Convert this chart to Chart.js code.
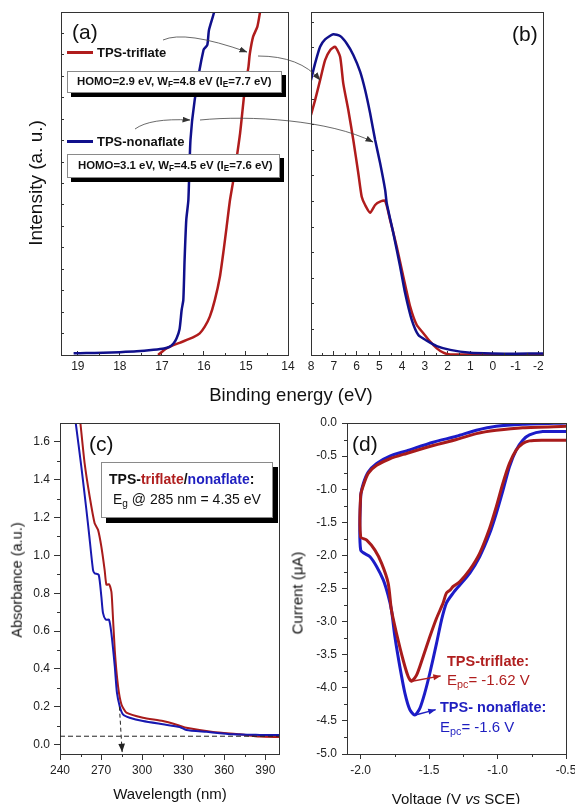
<!DOCTYPE html>
<html>
<head>
<meta charset="utf-8">
<title>TPS-triflate / TPS-nonaflate</title>
<script src="https://cdn.jsdelivr.net/npm/chart.js@4.4.1/dist/chart.umd.min.js"></script>
<style>
  body { margin: 0; background: #fff; }
  #fig { position: relative; width: 575px; height: 804px; overflow: hidden;
         font-family: "Liberation Sans", Arial, sans-serif; color: #111; }
  #fig canvas { position: absolute; }
  .t { position: absolute; white-space: nowrap; line-height: 1; transform: translateY(-50%); }
  .c { transform: translate(-50%, -50%); }
  .r { transform: translate(-50%, -50%) rotate(-90deg); }
  .b { font-weight: bold; }
  .sb { font-size: 0.72em; position: relative; top: 0.3em; }
  .box { position: absolute; box-sizing: border-box; background: #fff; border: 1px solid #8a8a8a; }
  .seg { position: absolute; height: 3px; }
  svg { position: absolute; left: 0; top: 0; }
  .red { color: #b01e1e; }
  .blu { color: #1e1ec0; }
</style>
</head>
<body>
<div id="fig">
  <canvas id="ca" width="295" height="380" style="left:0;top:0"></canvas>
  <canvas id="cb" width="280" height="380" style="left:295px;top:0"></canvas>
  <canvas id="cc" width="290" height="404" style="left:0;top:400px"></canvas>
  <canvas id="cd" width="285" height="404" style="left:290px;top:400px"></canvas>

  <svg width="575" height="400" viewBox="0 0 575 400">
    <defs>
      <marker id="ah" markerWidth="8" markerHeight="6" refX="7.5" refY="3" orient="auto" markerUnits="userSpaceOnUse">
        <path d="M0,0 L8,3 L0,6 z" fill="#333"/>
      </marker>
    </defs>
    <g fill="none" stroke="#444" stroke-width="0.8" marker-end="url(#ah)">
      <path d="M163 40 Q185 30 247 52"/>
      <path d="M258 56 Q300 56 320 80"/>
      <path d="M135 129 Q150 118 190 120"/>
      <path d="M200 120 C250 115 330 120 373 142"/>
    </g>
  </svg>

  <!-- (a) / (b) texts -->
  <div class="t" style="left:72px;top:31px;font-size:21px">(a)</div>
  <div class="t" style="left:512px;top:33px;font-size:21px">(b)</div>
  <div class="seg" style="left:67px;top:51px;width:26px;background:#b01c1c"></div>
  <div class="t b" style="left:97px;top:52px;font-size:13px">TPS-triflate</div>
  <div class="box" style="left:67px;top:71px;width:215px;height:22px;box-shadow:4px 4px 0 #000"></div>
  <div class="t b" style="left:77px;top:82px;font-size:11.4px">HOMO=2.9 eV, W<span class="sb">F</span>=4.8 eV (I<span class="sb">E</span>=7.7 eV)</div>
  <div class="seg" style="left:67px;top:140px;width:26px;background:#10108c"></div>
  <div class="t b" style="left:97px;top:141px;font-size:13px">TPS-nonaflate</div>
  <div class="box" style="left:67px;top:154px;width:213px;height:24px;box-shadow:4px 4px 0 #000"></div>
  <div class="t b" style="left:78px;top:166px;font-size:11.4px">HOMO=3.1 eV, W<span class="sb">F</span>=4.5 eV (I<span class="sb">E</span>=7.6 eV)</div>
  <div class="t r" style="left:35px;top:183px;font-size:19px">Intensity (a. u.)</div>
  <div class="t c" style="left:291px;top:395px;font-size:18.5px">Binding energy (eV)</div>

  <!-- (c) texts -->
  <div class="t" style="left:89px;top:443px;font-size:21px">(c)</div>
  <div class="box" style="left:101px;top:462px;width:172px;height:56px;box-shadow:5px 5px 0 #000"></div>
  <div class="t b" style="left:109px;top:479px;font-size:14px">TPS-<span class="red">triflate</span>/<span class="blu">nonaflate</span>:</div>
  <div class="t" style="left:113px;top:499px;font-size:14px">E<span class="sb">g</span> @ 285 nm = 4.35 eV</div>
  <div class="t r" style="left:17px;top:580px;font-size:14.5px">Absorbance (a.u.)</div>
  <div class="t c" style="left:170px;top:793px;font-size:15px">Wavelength (nm)</div>

  <!-- (d) texts -->
  <div class="t" style="left:352px;top:443px;font-size:21px">(d)</div>
  <div class="t b red" style="left:447px;top:661px;font-size:14.5px">TPS-triflate:</div>
  <div class="t red" style="left:447px;top:679px;font-size:15px">E<span class="sb">pc</span>= -1.62 V</div>
  <div class="t b blu" style="left:440px;top:707px;font-size:14.5px">TPS- nonaflate:</div>
  <div class="t blu" style="left:440px;top:726px;font-size:15px">E<span class="sb">pc</span>= -1.6 V</div>
  <div class="t r" style="left:297px;top:593px;font-size:15px">Current (&mu;A)</div>
  <div class="t c" style="left:456px;top:798px;font-size:15px">Voltage (V <i>vs</i> SCE)</div>
</div>

<script>
  const FONT = '"Liberation Sans", Arial, sans-serif';
  Chart.defaults.font.family = FONT;

  // (a) secondary electron cut-off, binding energy (eV) vs intensity (a.u.)
  const aBlueE = [19.1, 18.8, 18.4, 18.0, 17.6, 17.2, 16.95, 16.82, 16.72, 16.65, 16.58, 16.53, 16.49, 16.46, 16.42, 16.37, 16.32, 16.22, 16.01, 15.92, 15.88, 15.76, 15.72];
  const aBlueI = [0.08, 0.09, 0.1, 0.13, 0.17, 0.24, 0.3, 0.38, 0.55, 0.78, 1.2, 2.1, 2.57, 4.43, 6.3, 7.23, 10.03, 11.89, 14.23, 14.46, 15.16, 15.98, 16.5];
  const aRedE = [17.09, 16.89, 16.58, 16.26, 16.10, 15.98, 15.86, 15.74, 15.62, 15.53, 15.46, 15.38, 15.30, 15.14, 15.03, 14.94, 14.91, 14.83, 14.73, 14.67, 14.63];
  const aRedI = [0, 0.31, 0.57, 0.82, 1.01, 1.32, 1.79, 2.57, 3.65, 4.9, 5.98, 7.23, 8.16, 10.34, 12.36, 13.45, 14.03, 14.85, 15.31, 15.94, 16.5];
  const aMajorX = [19, 18, 17, 16, 15, 14];
  const aMinorX = [18.5, 17.5, 16.5, 15.5, 14.5];
  const aTicksY = [1, 2, 3, 4, 5, 6, 7, 8, 9, 10, 11, 12, 13, 14, 15];

  // (b) valence band region
  const bBlueE = [8.0, 7.82, 7.6, 7.38, 7.02, 6.72, 6.43, 6.14, 5.84, 5.62, 5.40, 5.18, 4.96, 4.74, 4.67, 4.38, 4.08, 3.86, 3.57, 3.28, 2.91, 2.47, 1.88, 1.0, 0, -1, -2.2];
  const bBlueI = [10.74, 11.39, 12.04, 12.33, 12.53, 12.46, 12.17, 11.72, 11.07, 10.35, 9.44, 8.40, 7.49, 6.45, 5.93, 4.76, 3.45, 2.41, 1.37, 0.78, 0.56, 0.35, 0.2, 0.09, 0.06, 0.05, 0.06];
  const bRedE = [8.0, 7.82, 7.6, 7.38, 7.16, 6.94, 6.72, 6.58, 6.36, 6.14, 5.92, 5.77, 5.62, 5.40, 5.18, 4.96, 4.74, 4.52, 4.23, 3.94, 3.64, 3.35, 3.06, 2.76, 2.47, 2.18, 1.88, 1.0, 0, -1, -2.2];
  const bRedI = [9.38, 9.96, 10.74, 11.52, 11.91, 12.04, 11.65, 10.6, 9.57, 8.4, 7.1, 6.18, 5.86, 5.56, 5.86, 5.99, 6.02, 5.27, 4.23, 3.06, 1.89, 1.17, 0.85, 0.52, 0.26, 0.09, 0.02, 0.02, 0.03, 0.03, 0.03];
  const bMajorX = [8, 7, 6, 5, 4, 3, 2, 1, 0, -1, -2];
  const bMinorX = [7.5, 6.5, 5.5, 4.5, 3.5, 2.5, 1.5, 0.5, -0.5, -1.5];
  const bTicksY = [1, 2, 3, 4, 5, 6, 7, 8, 9, 10, 11, 12, 13];

  // (c) UV-vis absorbance
  const cBlueW = [251.5, 255.6, 259.3, 261.2, 264.1, 265.3, 268.3, 270.2, 271.4, 273.4, 275.8, 277.5, 280, 281.6, 283.6, 286, 290.9, 300.6, 315.2, 327.4, 332.3, 346.9, 366.4, 385.9, 400];
  const cBlueA = [1.7, 1.468, 1.24, 1.117, 0.924, 0.906, 0.897, 0.783, 0.696, 0.66, 0.66, 0.59, 0.414, 0.274, 0.203, 0.16, 0.142, 0.124, 0.107, 0.093, 0.077, 0.067, 0.054, 0.051, 0.05];
  const cRedW = [254.9, 258, 261.7, 265.3, 267.8, 270.2, 272.6, 273.9, 275.8, 277.5, 278, 280, 282.4, 284.9, 288.5, 300.6, 315.2, 327.4, 332.3, 351.8, 371.3, 385.9, 400];
  const cRedA = [1.7, 1.486, 1.31, 1.17, 1.135, 1.047, 0.924, 0.845, 0.848, 0.81, 0.766, 0.50, 0.309, 0.212, 0.169, 0.142, 0.124, 0.10, 0.089, 0.067, 0.054, 0.042, 0.04];
  const cMajorX = [240, 270, 300, 330, 360, 390];
  const cMinorX = [255, 285, 315, 345, 375];
  const cMajorY = [0, 0.2, 0.4, 0.6, 0.8, 1.0, 1.2, 1.4, 1.6];
  const cMinorY = [0.1, 0.3, 0.5, 0.7, 0.9, 1.1, 1.3, 1.5];
  const cBaseline = 0.044;
  const cOnset = 285;

  // (d) cyclic voltammograms
  const dBlueV = [-0.5, -0.67, -0.767, -0.816, -0.864, -0.913, -0.961, -1.01, -1.058, -1.131, -1.204, -1.277, -1.325, -1.374, -1.41, -1.446, -1.495, -1.532, -1.568, -1.605, -1.641, -1.677, -1.714, -1.75, -1.775, -1.80, -1.835, -1.883, -1.932, -2.0, -2.0, -1.98, -1.945, -1.883, -1.787, -1.665, -1.47, -1.30, -1.155, -1.01, -0.816, -0.5];
  const dBlueI = [-0.13, -0.13, -0.18, -0.26, -0.41, -0.66, -1.02, -1.37, -1.67, -2.02, -2.27, -2.45, -2.57, -2.72, -2.98, -3.33, -3.78, -4.08, -4.31, -4.41, -4.33, -4.08, -3.68, -3.23, -2.83, -2.6, -2.37, -2.17, -2.02, -1.92, -1.11, -0.91, -0.74, -0.61, -0.50, -0.42, -0.29, -0.2, -0.11, -0.05, -0.02, 0.0];
  const dRedV = [-0.5, -0.67, -0.767, -0.816, -0.864, -0.913, -0.961, -1.01, -1.058, -1.131, -1.204, -1.277, -1.325, -1.345, -1.374, -1.398, -1.446, -1.495, -1.544, -1.592, -1.629, -1.653, -1.69, -1.738, -1.775, -1.799, -1.847, -1.896, -1.956, -2.0, -2.0, -1.98, -1.945, -1.883, -1.787, -1.665, -1.47, -1.30, -1.155, -1.01, -0.816, -0.5];
  const dRedI = [-0.26, -0.26, -0.27, -0.31, -0.41, -0.61, -0.91, -1.27, -1.59, -1.97, -2.22, -2.40, -2.47, -2.52, -2.57, -2.72, -2.95, -3.23, -3.53, -3.81, -3.90, -3.83, -3.58, -3.18, -2.83, -2.42, -2.12, -1.92, -1.77, -1.72, -1.09, -0.94, -0.76, -0.64, -0.54, -0.46, -0.34, -0.25, -0.16, -0.11, -0.07, -0.05];
  const dMajorX = [-2.0, -1.5, -1.0, -0.5];
  const dMinorX = [-1.75, -1.25, -0.75];
  const dMajorY = [0, -0.5, -1.0, -1.5, -2.0, -2.5, -3.0, -3.5, -4.0, -4.5, -5.0];
  const dMinorY = [-0.25, -0.75, -1.25, -1.75, -2.25, -2.75, -3.25, -3.75, -4.25, -4.75];
  const dPeakRed = [-1.625, -3.9];
  const dPeakBlue = [-1.6, -4.41];

  const pts = (xs, ys) => xs.map((v, i) => ({ x: v, y: ys[i] }));

  // frame, minor ticks and arrows, all placed through the chart's scales
  const frame = {
    id: 'frame',
    afterDraw(chart, args, o) {
      const { ctx, chartArea: a, scales } = chart;
      const sx = scales.x, sy = scales.y;
      ctx.save();
      ctx.strokeStyle = '#333';
      ctx.lineWidth = 1;
      const dir = o.inward ? -1 : 1;
      ctx.beginPath();
      (o.minorX || []).forEach(v => {
        const p = Math.round(sx.getPixelForValue(v)) + 0.5;
        ctx.moveTo(p, a.bottom);
        ctx.lineTo(p, a.bottom + dir * o.minorLen);
      });
      (o.minorY || []).forEach(v => {
        const p = Math.round(sy.getPixelForValue(v)) + 0.5;
        ctx.moveTo(a.left, p);
        ctx.lineTo(a.left - dir * o.minorLen, p);
      });
      ctx.stroke();
      ctx.strokeRect(Math.round(a.left) + 0.5, Math.round(a.top) + 0.5, Math.round(a.width), Math.round(a.height));

      (o.lines || []).forEach(l => {
        const x1 = sx.getPixelForValue(l.from[0]), y1 = sy.getPixelForValue(l.from[1]);
        const x2 = sx.getPixelForValue(l.to[0]), y2 = sy.getPixelForValue(l.to[1]);
        ctx.strokeStyle = l.color;
        ctx.fillStyle = l.color;
        ctx.lineWidth = l.width || 1;
        ctx.setLineDash(l.dash || []);
        ctx.beginPath();
        ctx.moveTo(x1, y1);
        ctx.lineTo(x2, y2);
        ctx.stroke();
        ctx.setLineDash([]);
        if (l.head) {
          const ang = Math.atan2(y2 - y1, x2 - x1), h = l.head;
          ctx.beginPath();
          ctx.moveTo(x2, y2);
          ctx.lineTo(x2 - h * Math.cos(ang - 0.38), y2 - h * Math.sin(ang - 0.38));
          ctx.lineTo(x2 - h * Math.cos(ang + 0.38), y2 - h * Math.sin(ang + 0.38));
          ctx.closePath();
          ctx.fill();
        }
      });
      ctx.restore();
    }
  };

  function axis(s) {
    const horiz = s.pos === 'bottom';
    return {
      type: 'linear', position: s.pos, min: s.min, max: s.max, reverse: !!s.reverse,
      border: { display: false },
      grid: { drawOnChartArea: false, tickLength: s.tl, tickColor: '#333', tickWidth: 1 },
      ticks: {
        display: !!s.fmt, autoSkip: false, maxRotation: 0, minRotation: 0,
        padding: s.pad || 0, color: '#222', font: { size: 12 },
        callback: v => (s.fmt ? s.fmt(v) : '')
      },
      afterBuildTicks: sc => { sc.ticks = s.ticks.map(v => ({ value: v })); },
      afterFit: sc => {
        if (horiz) sc.height = s.size; else sc.width = s.size;
        sc.paddingLeft = sc.paddingRight = sc.paddingTop = sc.paddingBottom = 0;
      }
    };
  }

  function makeChart(id, cfg) {
    return new Chart(document.getElementById(id), {
      type: 'scatter',
      data: {
        datasets: cfg.sets.map(d => ({
          data: d.data, borderColor: d.color, backgroundColor: d.color,
          borderWidth: d.w, showLine: true, pointRadius: 0, tension: d.t
        }))
      },
      options: {
        responsive: false, animation: false, events: [],
        layout: { padding: cfg.pad },
        plugins: { legend: { display: false }, tooltip: { enabled: false }, frame: cfg.frame },
        scales: { x: axis(cfg.x), y: axis(cfg.y) }
      },
      plugins: [frame]
    });
  }

  const intLabel = v => String(v);

  makeChart('ca', {
    pad: { left: 0, top: 12, right: 7, bottom: 0 },
    sets: [
      { data: pts(aBlueE, aBlueI), color: '#10108c', w: 2.5, t: 0.2 },
      { data: pts(aRedE, aRedI), color: '#b01c1c', w: 2.5, t: 0.2 }
    ],
    x: { pos: 'bottom', min: 14, max: 19.4, reverse: true, ticks: aMajorX, tl: -4, pad: 8, size: 25, fmt: intLabel },
    y: { pos: 'left', min: 0, max: 16, ticks: aTicksY, tl: -3, size: 61 },
    frame: { inward: true, minorLen: 2, minorX: aMinorX }
  });

  makeChart('cb', {
    pad: { left: 0, top: 12, right: 32, bottom: 0 },
    sets: [
      { data: pts(bBlueE, bBlueI), color: '#10108c', w: 2.5, t: 0.2 },
      { data: pts(bRedE, bRedI), color: '#b01c1c', w: 2.5, t: 0.2 }
    ],
    x: { pos: 'bottom', min: -2.2, max: 8, reverse: true, ticks: bMajorX, tl: -4, pad: 8, size: 25, fmt: intLabel },
    y: { pos: 'left', min: 0, max: 13.4, ticks: bTicksY, tl: -3, size: 16 },
    frame: { inward: true, minorLen: 2, minorX: bMinorX }
  });

  makeChart('cc', {
    pad: { left: 0, top: 23, right: 11, bottom: 0 },
    sets: [
      { data: pts(cBlueW, cBlueA), color: '#1818b0', w: 2, t: 0.2 },
      { data: pts(cRedW, cRedA), color: '#a81b1b', w: 2, t: 0.2 }
    ],
    x: { pos: 'bottom', min: 240, max: 400, ticks: cMajorX, tl: 6, pad: 3.5, size: 50, fmt: intLabel },
    y: { pos: 'left', min: -0.05, max: 1.7, ticks: cMajorY, tl: 6, pad: 4, size: 60, fmt: v => v.toFixed(1) },
    frame: {
      inward: false, minorLen: 3, minorX: cMinorX, minorY: cMinorY,
      lines: [
        { from: [240, cBaseline], to: [400, cBaseline], color: '#222', dash: [5, 3], width: 1 },
        { from: [cOnset - 1.6, 0.2], to: [cOnset + 0.4, -0.04], color: '#222', dash: [4, 3], width: 1, head: 9 }
      ]
    }
  });

  makeChart('cd', {
    pad: { left: 0, top: 23, right: 9, bottom: 0 },
    sets: [
      { data: pts(dRedV, dRedI), color: '#a81b1b', w: 3, t: 0.25 },
      { data: pts(dBlueV, dBlueI), color: '#1c1cc8', w: 3, t: 0.25 }
    ],
    x: { pos: 'bottom', min: -2.1, max: -0.5, ticks: dMajorX, tl: 5, pad: 4.8, size: 50, fmt: v => v.toFixed(1) },
    y: { pos: 'left', min: -5, max: 0, ticks: dMajorY, tl: 5, pad: 5, size: 57, fmt: v => v.toFixed(1) },
    frame: {
      inward: false, minorLen: 3, minorX: dMinorX, minorY: dMinorY,
      lines: [
        { from: dPeakRed, to: [-1.415, -3.82], color: '#b01e1e', width: 1.5, head: 8 },
        { from: dPeakBlue, to: [-1.452, -4.33], color: '#1e1ec0', width: 1.5, head: 8 }
      ]
    }
  });
</script>
</body>
</html>
